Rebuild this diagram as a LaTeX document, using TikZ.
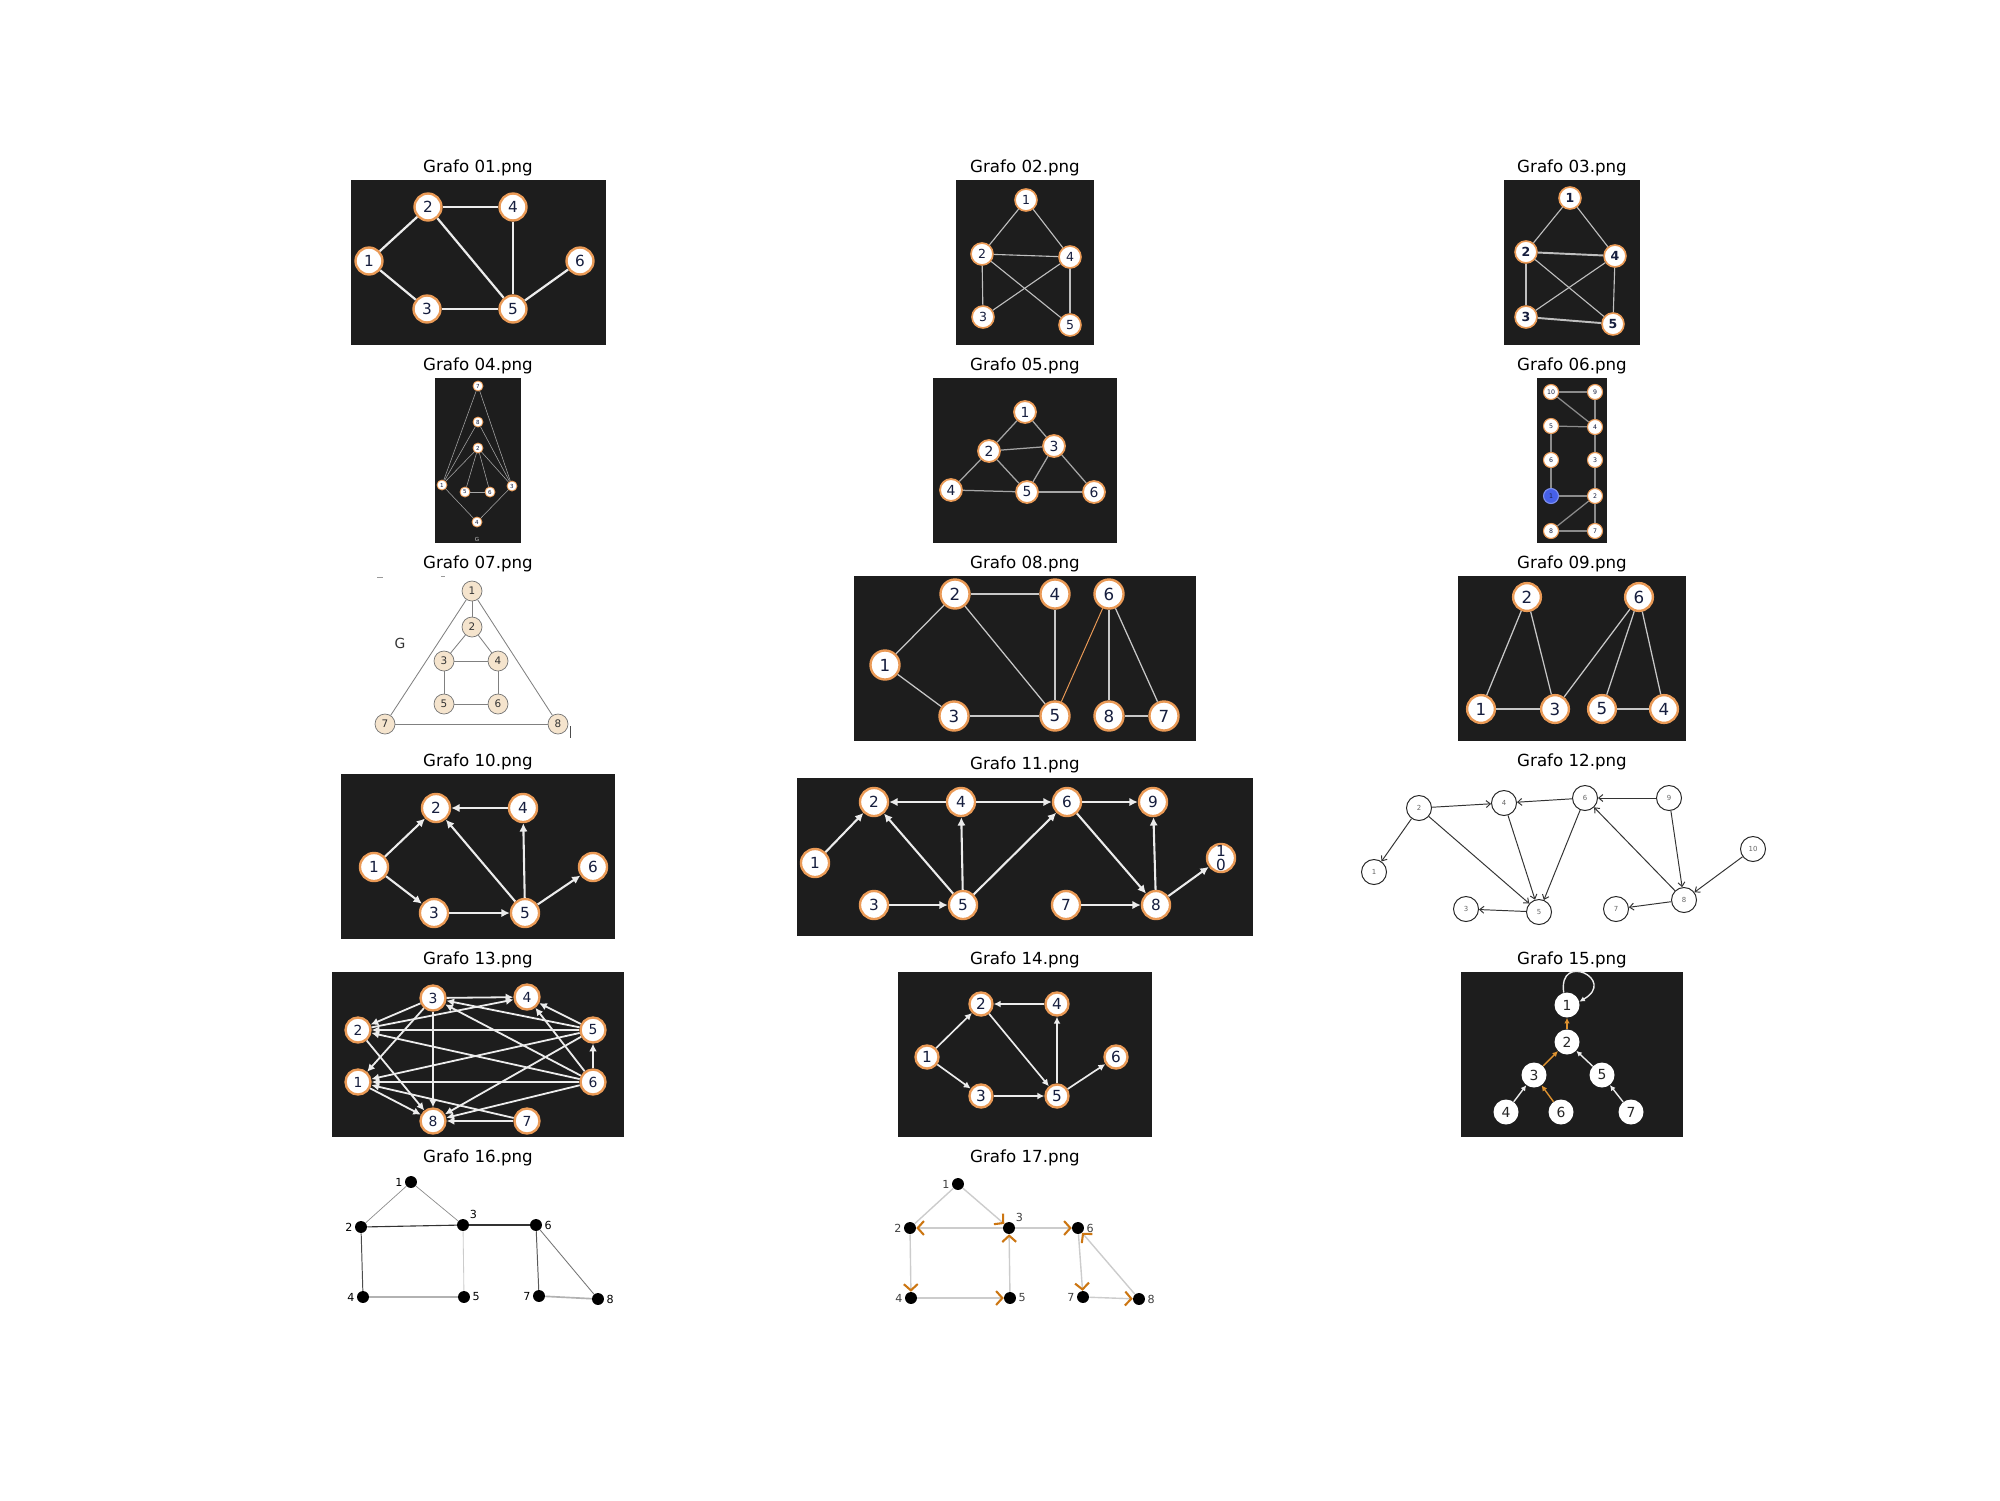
\documentclass[tikz,border=0pt]{standalone}
\usepackage{fontspec}
\setmainfont{DejaVu Sans}
\usetikzlibrary{arrows.meta}

\definecolor{board}{RGB}{29,29,29}
\definecolor{rim}{RGB}{234,154,86}
\definecolor{ink}{RGB}{22,30,62}
\definecolor{chalk}{RGB}{236,236,236}
\definecolor{beige}{RGB}{245,228,205}
\definecolor{chev}{RGB}{204,118,18}
\definecolor{amber}{RGB}{222,146,48}
\definecolor{bluevtx}{RGB}{70,96,232}

\newcommand{\fsz}[1]{\fontsize{#1}{#1}\selectfont}

\tikzset{
  title/.style={anchor=base, font=\fsz{12}},
  ovtx/.style={circle, fill=white, draw=rim, line width=1.7pt, inner sep=0pt, text=ink, minimum size=#1},
  ovtx/.default=20pt,
  wvtx/.style={circle, fill=white, inner sep=0pt, minimum size=18pt, text=black!85, font=\fsz{10}},
  pvtx/.style={circle, fill=white, draw=black!85, line width=0.7pt, inner sep=0pt, minimum size=18pt, text=black!60, font=\fsz{5}},
  bvtx/.style={circle, fill=beige, draw=black!55, line width=0.5pt, inner sep=0pt, minimum size=14.4pt, text=black!80, font=\fsz{7.5}},
  blackdot/.style={circle, fill=black, inner sep=0pt, minimum size=8.6pt},
  wedge/.style={draw=chalk, line width=1.6pt},
  gedge/.style={draw=black!25, line width=0.8pt},
  aedge/.style={draw=chalk, line width=1.5pt, -{Latex[length=6pt,width=6pt]}},
  pedge/.style={draw=black!80, line width=0.7pt, -{Straight Barb[length=3pt,width=5pt]}},
  cedge/.style={draw=black!20, line width=1pt, -{Straight Barb[color=chev, length=4.5pt, width=10pt, line width=1.5pt]}},
}

\begin{document}
\begin{tikzpicture}[x=0.72pt, y=-0.72pt]
\fill[white] (0,0) rectangle (2000,1500);
\useasboundingbox (0,0) rectangle (2000,1500);

% Grafo 01
\node[title] at (478,172) {Grafo 01.png};
\fill[board] (351,180) rectangle (606,345);
\foreach \n/\x/\y in {1/369/261, 2/428/207, 3/427/309, 4/513/207, 5/513/309, 6/580/261}
  \node[ovtx=19.4pt, font=\fsz{11}] (g01n\n) at (\x,\y) {\n};
\foreach \a/\b in {1/2, 1/3, 2/4, 2/5, 3/5, 4/5, 5/6}
  \draw[wedge] (g01n\a) -- (g01n\b);

% Grafo 02
\node[title] at (1025,172) {Grafo 02.png};
\fill[board] (956,180) rectangle (1094,345);
\foreach \n/\x/\y in {1/1026/200, 2/982/254, 3/983/317, 4/1070/257, 5/1070/325}
  \node[ovtx=15.8pt, line width=1.2pt, font=\fsz{9}] (g02n\n) at (\x,\y) {\n};
\foreach \a/\b in {1/2, 1/4, 2/4, 2/3, 2/5, 4/3, 4/5}
  \draw[gedge] (g02n\a) -- (g02n\b);

% Grafo 03
\node[title] at (1572,172) {Grafo 03.png};
\fill[board] (1504,180) rectangle (1640,345);
\foreach \n/\x/\y in {1/1570/198, 2/1526/252, 3/1526/317, 4/1615/256, 5/1613/324}
  \node[ovtx=15.8pt, line width=1.2pt, font=\fsz{9}\bfseries] (g03n\n) at (\x,\y) {\n};
\foreach \a/\b in {1/2, 1/4, 2/3, 2/5, 4/3, 4/5}
  \draw[gedge] (g03n\a) -- (g03n\b);
\draw[gedge, line width=1.4pt] (g03n2) -- (g03n4);
\draw[gedge, line width=1.4pt] (g03n3) -- (g03n5);

% Grafo 04
\node[title] at (478,370) {Grafo 04.png};
\fill[board] (435,378) rectangle (521,543);
\foreach \n/\x/\y in {7/478/386, 8/478/422, 2/478/448, 1/442/485, 5/465/492, 6/490/492, 3/512/486, 4/477/522}
  \node[ovtx=7.2pt, line width=0.6pt, font=\fsz{4}] (g04n\n) at (\x,\y) {\n};
\foreach \a/\b in {7/1, 7/3, 8/1, 8/3, 2/1, 2/3, 2/5, 2/6, 5/6, 1/4, 3/4}
  \draw[draw=black!35, line width=0.4pt] (g04n\a) -- (g04n\b);
\node[font=\fsz{4}, text=white!80!black] (g04lab) at (477,539) {G};

% Grafo 05
\node[title] at (1025,370) {Grafo 05.png};
\fill[board] (933,378) rectangle (1117,543);
\foreach \n/\x/\y in {1/1025/412, 2/989/451, 3/1054/446, 4/951/490, 5/1027/492, 6/1094/492}
  \node[ovtx=15.8pt, line width=1.3pt, font=\fsz{10}] (g05n\n) at (\x,\y) {\n};
\foreach \a/\b in {1/2, 1/3, 2/3, 2/4, 2/5, 3/5, 3/6, 4/5, 5/6}
  \draw[draw=black!35, line width=0.9pt] (g05n\a) -- (g05n\b);

% Grafo 06
\node[title] at (1572,370) {Grafo 06.png};
\fill[board] (1537,378) rectangle (1607,543);
\foreach \n/\x/\y in {10/1551/392, 9/1595/392, 5/1551/426, 4/1595/427, 6/1551/460, 3/1595/460, 2/1595/496, 8/1551/531, 7/1595/531}
  \node[ovtx=10.8pt, line width=0.8pt, font=\fsz{4.5}] (g06n\n) at (\x,\y) {\n};
\node[ovtx=10.8pt, line width=0.8pt, font=\fsz{4.5}, fill=bluevtx, draw=bluevtx!70!white] (g06n1) at (1551,496) {1};
\foreach \a/\b in {10/9, 10/4, 5/4, 9/4, 5/6, 6/1, 4/3, 3/2, 1/2, 2/8, 2/7, 8/7}
  \draw[draw=black!45, line width=0.9pt] (g06n\a) -- (g06n\b);

% Grafo 07
\node[title] at (478,568) {Grafo 07.png};
\foreach \n/\x/\y in {1/472/591, 2/472/627, 3/444/661, 4/498/661, 5/444/704, 6/498/704, 7/385/724, 8/558/724}
  \node[bvtx] (g07n\n) at (\x,\y) {\n};
\foreach \a/\b in {1/2, 1/7, 1/8, 2/3, 2/4, 3/4, 3/5, 4/6, 5/6, 7/8}
  \draw[draw=black!50, line width=0.6pt] (g07n\a) -- (g07n\b);
\node[font=\fsz{10}, text=black!80] (g07lab) at (400,643) {G};
\draw[black!70, line width=0.6pt] (570,726) -- (570,738);
\draw[black!40, line width=0.5pt] (377,577) -- (383,577);
\draw[black!40, line width=0.5pt] (441,576) -- (445,576);

% Grafo 08
\node[title] at (1025,568) {Grafo 08.png};
\fill[board] (854,576) rectangle (1196,741);
\foreach \n/\x/\y in {1/885/665, 2/955/594, 3/954/716, 4/1055/594, 5/1055/716, 6/1109/594, 7/1164/716, 8/1109/716}
  \node[ovtx=20.9pt, font=\fsz{12}] (g08n\n) at (\x,\y) {\n};
\foreach \a/\b in {2/4, 2/1, 2/5, 4/5, 1/3, 3/5, 6/8, 6/7, 8/7}
  \draw[draw=black!22, line width=0.9pt] (g08n\a) -- (g08n\b);
\draw[draw=rim, line width=0.7pt] (g08n6) -- (g08n5);

% Grafo 09
\node[title] at (1572,568) {Grafo 09.png};
\fill[board] (1458,576) rectangle (1686,741);
\foreach \n/\x/\y in {1/1481/709, 2/1527/597, 3/1555/709, 4/1664/709, 5/1602/709, 6/1639/597}
  \node[ovtx=20pt, font=\fsz{12}] (g09n\n) at (\x,\y) {\n};
\foreach \a/\b in {2/1, 2/3, 6/3, 6/5, 6/4}
  \draw[draw=black!22, line width=0.9pt] (g09n\a) -- (g09n\b);
\draw[draw=black!22, line width=1.4pt] (g09n1) -- (g09n3);
\draw[draw=black!22, line width=1.4pt] (g09n5) -- (g09n4);

% Grafo 10
\node[title] at (478,766) {Grafo 10.png};
\fill[board] (341,774) rectangle (615,939);
\foreach \n/\x/\y in {1/374/867, 2/436/808, 3/434/913, 4/523/808, 5/525/913, 6/593/867}
  \node[ovtx=20.2pt, font=\fsz{11}] (g10n\n) at (\x,\y) {\n};
\foreach \a/\b in {1/2, 1/3, 4/2, 5/2, 5/4, 3/5, 5/6}
  \draw[aedge] (g10n\a) -- (g10n\b);

% Grafo 11
\node[title] at (1025,769) {Grafo 11.png};
\fill[board] (797,777.5) rectangle (1253,935.5);
\foreach \n/\x/\y in {1/815/863, 2/874/802, 3/874/905, 4/961/802, 5/963/905, 6/1067/802, 7/1066/905, 8/1156/905, 9/1153/802}
  \node[ovtx=20.2pt, font=\fsz{11}] (g11n\n) at (\x,\y) {\n};
\node[ovtx=20.2pt] (g11n10) at (1221,858) {};
\node[font=\fsz{11}, text=ink, align=center] (g11lab) at (1221,858) {1\\[-1.5pt]0};
\foreach \a/\b in {1/2, 4/2, 4/6, 5/2, 5/4, 5/6, 3/5, 6/9, 6/8, 8/9, 7/8, 8/10}
  \draw[aedge] (g11n\a) -- (g11n\b);

% Grafo 12
\node[title] at (1572,766) {Grafo 12.png};
\foreach \n/\x/\y in {1/1374/872, 2/1419/808, 3/1466/909, 4/1504/803, 5/1539/912, 6/1585/798, 7/1616/909, 8/1684/900, 9/1669/798, 10/1753/849}
  \node[pvtx] (g12n\n) at (\x,\y) {\n};
\foreach \a/\b in {2/4, 2/1, 2/5, 4/5, 6/4, 6/5, 9/6, 9/8, 8/6, 10/8, 5/3, 8/7}
  \draw[pedge] (g12n\a) -- (g12n\b);

% Grafo 13
\node[title] at (478,964) {Grafo 13.png};
\fill[board] (332,972) rectangle (624,1137);
\foreach \n/\x/\y in {1/358/1082, 2/358/1030, 3/433/998, 4/527/997, 5/593/1030, 6/593/1082, 7/527/1121, 8/433/1121}
  \node[ovtx=18pt, font=\fsz{10}] (g13n\n) at (\x,\y) {\n};
\foreach \a/\b in {3/4, 3/2, 2/4, 3/1, 3/8, 5/3, 5/4, 5/2, 6/2, 6/3, 6/4, 6/5, 5/1, 5/8, 6/1, 6/8, 2/8, 1/8, 7/1, 7/8}
  \draw[aedge, line width=1.3pt, -{Latex[length=5.5pt,width=5.5pt]}] (g13n\a) -- (g13n\b);

% Grafo 14
\node[title] at (1025,964) {Grafo 14.png};
\fill[board] (898,972) rectangle (1152,1137);
\foreach \n/\x/\y in {1/927/1057, 2/981/1004, 3/981/1096, 4/1057/1004, 5/1057/1096, 6/1116/1057}
  \node[ovtx=16.6pt, font=\fsz{11}] (g14n\n) at (\x,\y) {\n};
\foreach \a/\b in {1/2, 1/3, 4/2, 2/5, 5/4, 3/5, 5/6}
  \draw[aedge, line width=1.2pt, -{Latex[length=5pt,width=5pt]}] (g14n\a) -- (g14n\b);

% Grafo 15
\node[title] at (1572,964) {Grafo 15.png};
\fill[board] (1461,972) rectangle (1683,1137);
\foreach \n/\x/\y in {1/1567/1005, 2/1567/1042, 3/1534/1075, 4/1506/1112, 5/1602/1075, 6/1561/1112, 7/1631/1112}
  \node[wvtx] (g15n\n) at (\x,\y) {\n};
\foreach \a/\b/\c in {2/1/amber, 3/2/amber, 5/2/chalk, 4/3/chalk, 6/3/amber, 7/5/chalk}
  \draw[draw=\c, line width=1pt, -{Latex[length=4pt,width=4pt]}] (g15n\a) -- (g15n\b);
\draw[draw=chalk, line width=1pt, -{Latex[length=4pt,width=4pt]}] (g15n1.105) .. controls +(-98:42) and +(-30:44) .. (g15n1.15);

% Grafo 16
\node[title] at (478,1162) {Grafo 16.png};
\foreach \n/\x/\y/\p in {1/411/1182/left, 2/361/1227/left, 3/463/1225/above right, 4/363/1297/left, 5/464/1297/right, 6/536/1225/right, 7/539/1296/left, 8/598/1299/right}
  \node[blackdot, label={[font=\fsz{8}, inner sep=1.5pt]\p:\n}] (g16n\n) at (\x,\y) {};
\foreach \a/\b/\s/\w in {1/2/45/0.5, 1/3/45/0.5, 2/3/80/0.8, 3/6/80/0.8, 2/4/70/0.7, 3/5/20/0.6, 4/5/30/1.2, 6/7/65/0.7, 6/8/55/0.6, 7/8/30/1.2}
  \draw[draw=black!\s, line width=\w pt] (g16n\a) -- (g16n\b);

% Grafo 17
\node[title] at (1025,1162) {Grafo 17.png};
\foreach \n/\x/\y/\p in {1/958/1184/left, 2/910/1228/left, 3/1009/1228/above right, 4/911/1298/left, 5/1010/1298/right, 6/1078/1228/right, 7/1083/1297/left, 8/1139/1299/right}
  \node[blackdot, label={[font=\fsz{8}, text=black!75, inner sep=1.5pt]\p:\n}] (g17n\n) at (\x,\y) {};
\draw[draw=black!20, line width=1pt] (g17n1) -- (g17n2);
\foreach \a/\b in {3/2, 1/3, 5/3, 3/6, 8/6, 2/4, 4/5, 6/7, 7/8}
  \draw[cedge] (g17n\a) -- (g17n\b);
\end{tikzpicture}
\end{document}
